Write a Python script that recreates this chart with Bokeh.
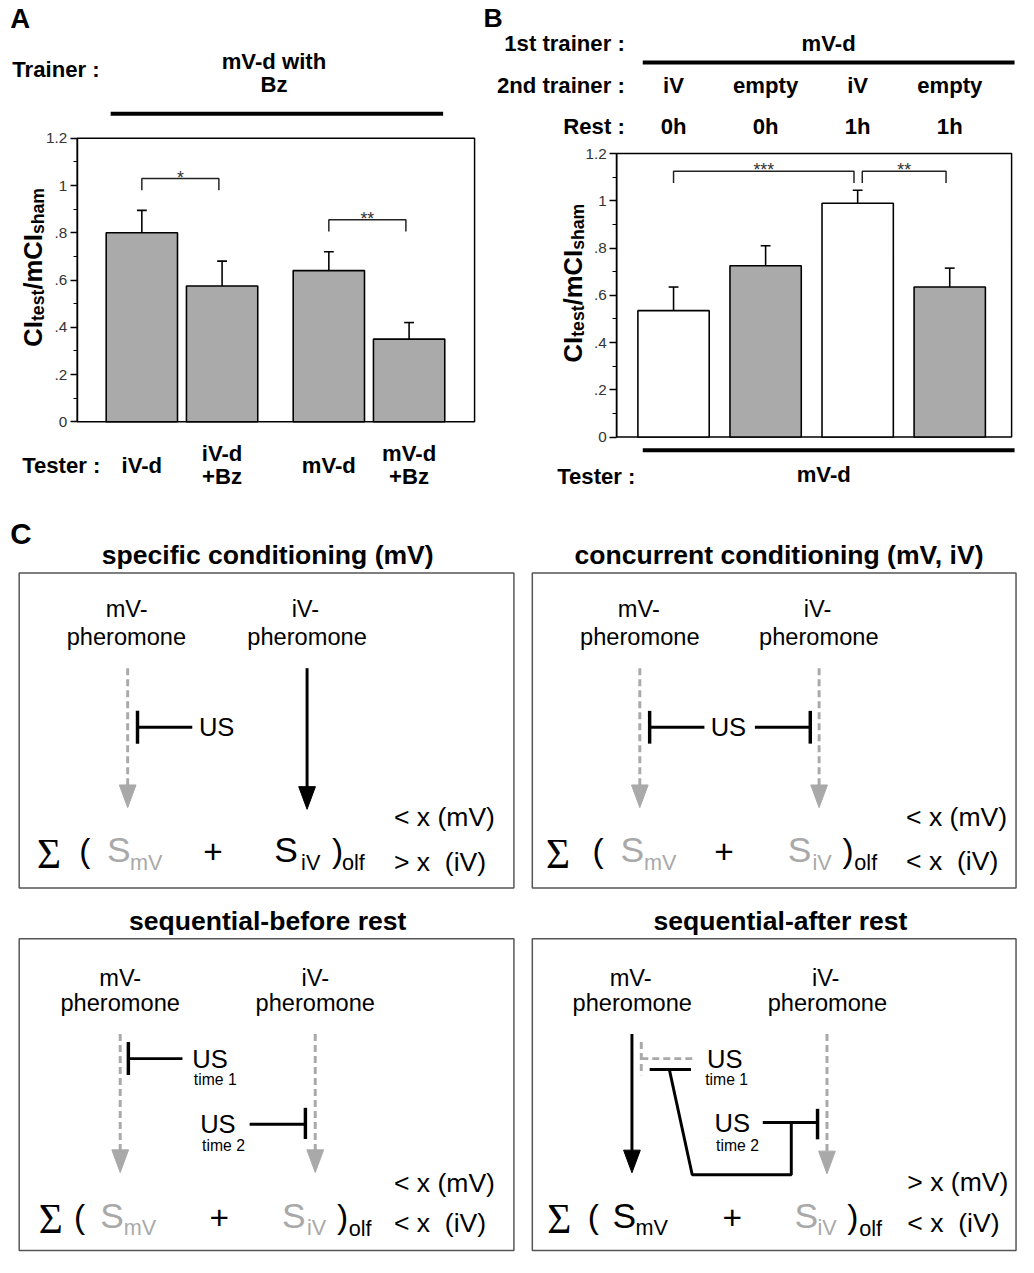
import math
from bokeh.plotting import figure
from bokeh.models import Range1d, LinearAxis, FixedTicker, CustomJSTickFormatter
from bokeh.core.properties import value
from bokeh.embed import file_html
from bokeh.resources import INLINE

# ---------------- data ----------------
A_trainer = ["mV-d with", "Bz"]
A_testers = ["iV-d", "iV-d\n+Bz", "mV-d", "mV-d\n+Bz"]
A_means = [0.80, 0.575, 0.64, 0.35]
A_sems = [0.095, 0.105, 0.08, 0.07]
A_sig_pairs = [(0, 1), (2, 3)]
A_sig_marks = ["*", "**"]
A_sig_levels = [1.03, 0.855]

B_trainer1 = "mV-d"
B_trainer2 = ["iV", "empty", "iV", "empty"]
B_rest = ["0h", "0h", "1h", "1h"]
B_tester = "mV-d"
B_means = [0.535, 0.725, 0.99, 0.635]
B_sems = [0.10, 0.085, 0.055, 0.08]
B_sig_pairs = [(0, 2), (2, 3)]
B_sig_marks = ["***", "**"]
B_sig_levels = [1.125, 1.125]

Y_TICKS = [0, 0.2, 0.4, 0.6, 0.8, 1.0, 1.2]
Y_MINOR = [0.1, 0.3, 0.5, 0.7, 0.9, 1.1]
Y_MAX = 1.2

C_titles = ["specific conditioning (mV)", "concurrent conditioning (mV, iV)",
            "sequential-before rest", "sequential-after rest"]
C_outcomes = [["< x (mV)", "> x\u00a0 (iV)"], ["< x (mV)", "< x\u00a0 (iV)"],
              ["< x (mV)", "< x\u00a0 (iV)"], ["> x (mV)", "< x\u00a0 (iV)"]]
C_active = [(False, True), (False, False), (False, False), (True, False)]

# ---------------- canvas ----------------
W_REF, H_REF = 1034, 1273
PW, PH = 1017, 1253
S = min(PW / W_REF, PH / H_REF)
SANS = "Liberation Sans"
SERIF = "Liberation Serif"
GRAY = "#a9a9a9"
BARGRAY = "#aaaaaa"


def vrange(zero_px, k):
    return Range1d(start=(zero_px - H_REF) / k, end=zero_px / k)


def xrange_(c0, step):
    return Range1d(start=(0 - c0) / step, end=(W_REF - c0) / step)


# panel geometry (reference pixel layout)
A_ZERO, B_ZERO, KPX = 428.0, 443.5, 240.0
A_C0, A_STEP = 143.7, 81.6
B_C0, B_STEP = 684.3, 93.6

p = figure(width=PW, height=PH, x_range=Range1d(0, W_REF), y_range=Range1d(H_REF, 0),
           output_backend="svg", toolbar_location=None, tools="",
           x_axis_location=None, y_axis_location=None, min_border=0,
           outline_line_color=None, background_fill_color="white",
           border_fill_color="white")
p.grid.grid_line_color = None
p.extra_x_ranges = {"xa": xrange_(A_C0, A_STEP), "xb": xrange_(B_C0, B_STEP)}
p.extra_y_ranges = {"ya": vrange(A_ZERO, KPX), "yb": vrange(B_ZERO, KPX)}


def T(x, y, s, size, bold=False, color="black", align="center", baseline="middle",
      font=SANS, angle=0.0, xr="default", yr="default"):
    p.text(x=[x], y=[y], text=[s], text_font=value(font),
           text_font_size=f"{size * S:.2f}px",
           text_font_style="bold" if bold else "normal", text_color=color,
           text_align=align, text_baseline=baseline, angle=angle,
           x_range_name=xr, y_range_name=yr)


def L(xs, ys, w=3.0, color="black", dash="solid", xr="default", yr="default"):
    p.line(x=xs, y=ys, line_width=w * S, line_color=color, line_dash=dash,
           x_range_name=xr, y_range_name=yr)


def arrow(x, y0, tip, color, dashed):
    hl, hw = 23, 8.5
    L([x, x], [y0, tip - hl + 2], w=3, color=color, dash="7 4" if dashed else "solid")
    p.patch([x - hw, x + hw, x], [tip - hl, tip - hl, tip], fill_color=color,
            line_color=color, line_width=1)


fmt = CustomJSTickFormatter(code="""
if (Math.abs(tick) < 1e-9) return "0";
if (Math.abs(tick - Math.round(tick)) < 1e-9) return tick.toFixed(0);
return tick.toFixed(1).replace(/^0/, "");
""")


def add_axis(yr, xloc, xright):
    ax = LinearAxis(y_range_name=yr, fixed_location=xloc, bounds=(0, Y_MAX),
                    ticker=FixedTicker(ticks=Y_TICKS, minor_ticks=Y_MINOR),
                    formatter=fmt)
    ax.axis_line_width = 1.5 * S
    ax.axis_line_color = "black"
    ax.major_tick_out = 7
    ax.major_tick_in = 0
    ax.minor_tick_out = 4
    ax.minor_tick_in = 0
    ax.major_tick_line_width = 1.3
    ax.minor_tick_line_width = 1.2
    ax.major_label_text_font = SANS
    ax.major_label_text_font_size = f"{15.5 * S:.2f}px"
    ax.major_label_text_color = "#333333"
    ax.major_label_standoff = 3
    p.add_layout(ax, "left")
    p.quad(left=[xloc], right=[xright], bottom=[0], top=[Y_MAX], fill_color=None,
           line_color="black", line_width=1.5 * S, y_range_name=yr)


AB = {'C': 0.722, 'I': 0.278, 't': 0.333, 'e': 0.556, 's': 0.556, '/': 0.278,
      'm': 0.889, 'h': 0.611, 'a': 0.556}


def tw(s, size):
    return sum(AB.get(c, 0.6) for c in s) * size


def ylabel(xb, yc):
    parts = [("CI", 26, 0), ("test", 18, 5), ("/mCI", 26, 0), ("sham", 18, 5)]
    total = sum(tw(t, sz) for t, sz, _ in parts)
    y = yc + total / 2
    for t, sz, off in parts:
        T(xb + off, y, t, sz, bold=True, align="left", baseline="alphabetic",
          angle=math.pi / 2)
        y -= tw(t, sz)


def bars(pos, means, sems, colors, width, xr, yr, step):
    p.vbar(x=pos, top=means, bottom=0, width=width, fill_color=colors,
           line_color="black", line_width=1.6 * S, x_range_name=xr, y_range_name=yr)
    tops = [m + e for m, e in zip(means, sems)]
    p.segment(x0=pos, y0=means, x1=pos, y1=tops, line_color="black",
              line_width=1.6 * S, x_range_name=xr, y_range_name=yr)
    cw = 5.0 / step
    p.segment(x0=[x - cw for x in pos], y0=tops, x1=[x + cw for x in pos], y1=tops,
              line_color="black", line_width=1.6 * S, x_range_name=xr, y_range_name=yr)


def brackets(pos, pairs, marks, levels, xr, yr):
    rights = [j for _, j in pairs]
    for (i, j), m, h in zip(pairs, marks, levels):
        x0 = pos[i] + (0.05 if i in rights else 0.0)
        x1 = pos[j] - 0.04
        leg = 0.05
        p.line(x=[x0, x0, x1, x1], y=[h - leg, h, h, h - leg], line_color="#222222",
               line_width=1.5 * S, x_range_name=xr, y_range_name=yr)
        T((x0 + x1) / 2, h + 0.004, m, 18, color="#333333", baseline="alphabetic",
          xr=xr, yr=yr)


# ---------------- panel A ----------------
T(10, 18, "A", 28, bold=True, align="left")
T(12, 70, "Trainer :", 22.5, bold=True, align="left")
T(278, 62, A_trainer[0], 22.5, bold=True)
T(278, 85, A_trainer[1], 22.5, bold=True)
L([112, 450], [115, 115], w=4)
A_pos = [i + 0.33 * (i // 2) for i in range(len(A_means))]
add_axis("ya", 78, 482)
bars(A_pos, A_means, A_sems, [BARGRAY] * 4, 72.5 / A_STEP, "xa", "ya", A_STEP)
brackets(A_pos, A_sig_pairs, A_sig_marks, A_sig_levels, "xa", "ya")
ylabel(33, 271)
T(22, 472, "Tester :", 22.5, bold=True, align="left")
for x, lab in zip(A_pos, A_testers):
    lines = lab.split("\n")
    n = len(lines)
    for k, ln in enumerate(lines):
        T(x, 472 + (k - (n - 1) / 2) * 24, ln, 22.5, bold=True, xr="xa")

# ---------------- panel B ----------------
T(491, 17.5, "B", 27, bold=True, align="left")
T(634.7, 43.5, "1st trainer :", 22.5, bold=True, align="right")
T(842, 43.5, B_trainer1, 22.5, bold=True)
L([653, 1031], [63, 63], w=4)
T(634.7, 86, "2nd trainer :", 22.5, bold=True, align="right")
T(634.7, 128, "Rest :", 22.5, bold=True, align="right")
B_pos = list(range(len(B_means)))
for x, t2, r in zip(B_pos, B_trainer2, B_rest):
    T(x, 86, t2, 22.5, bold=True, xr="xb")
    T(x, 128, r, 22.5, bold=True, xr="xb")
add_axis("yb", 626.5, 1028)
B_colors = ["white" if t == "iV" else BARGRAY for t in B_trainer2]
bars(B_pos, B_means, B_sems, B_colors, 72.5 / B_STEP, "xb", "yb", B_STEP)
brackets(B_pos, B_sig_pairs, B_sig_marks, B_sig_levels, "xb", "yb")
ylabel(582, 287)
L([653, 1031], [457, 457], w=4)
T(566, 483.5, "Tester :", 22.5, bold=True, align="left")
T(837, 482, B_tester, 22.5, bold=True)

# ---------------- panel C ----------------
T(10, 541, "C", 30, bold=True, align="left")
boxes = [(19, 522, 581.7, 901.7), (540.7, 1032.5, 581.7, 901.7),
         (19, 522, 953.3, 1270), (540.7, 1032.5, 953.3, 1270)]
title_pos = [(271.7, 563.3), (791.5, 563.3), (271.7, 935), (793, 935)]
for (l, r, t, b), (tx, ty), title in zip(boxes, title_pos, C_titles):
    p.quad(left=[l], right=[r], top=[t], bottom=[b], fill_color=None,
           line_color="#555555", line_width=1.5 * S)
    T(tx, ty, title, 27, bold=True)

# pheromone labels
pher = [((128.3, 618.3, 128, 646.7), (310, 618.3, 311.7, 646.7)),
        ((649, 618.3, 650, 646.7), (830.7, 618.3, 832, 646.7)),
        ((121.7, 993.3, 121.7, 1019), (320, 993.3, 320, 1019)),
        ((640.7, 993.3, 642.3, 1019), (839, 993.3, 840.7, 1019))]
for (m, i) in pher:
    T(m[0], m[1], "mV-", 24)
    T(m[2], m[3], "pheromone", 24)
    T(i[0], i[1], "iV-", 24)
    T(i[2], i[3], "pheromone", 24)

# box 1 arrows / inhibition
arrow(129.3, 678.3, 820, GRAY, True)
arrow(311.7, 678.3, 821.7, "black", False)
L([139.3, 139.3], [721.7, 755], w=3.5)
L([139.3, 195], [738.3, 738.3], w=3)
T(201.7, 738.3, "US", 26, align="left")

# box 2
arrow(650, 678.3, 820, GRAY, True)
arrow(832.3, 678.3, 820, GRAY, True)
L([660, 660], [721.7, 755], w=3.5)
L([660, 715.7], [738.3, 738.3], w=3)
T(722, 738.3, "US", 26, align="left")
L([767, 823.3], [738.3, 738.3], w=3)
L([823.3, 823.3], [721.7, 755], w=3.5)

# box 3
arrow(121.7, 1050, 1190.7, GRAY, True)
arrow(320, 1050, 1190.7, GRAY, True)
L([130, 130], [1058, 1091.7], w=3.5)
L([130, 185], [1075, 1075], w=3)
T(195, 1075, "US", 26, align="left")
T(218.3, 1096.7, "time 1", 16)
T(203, 1141.7, "US", 26, align="left")
T(226.7, 1163.3, "time 2", 16)
L([253.3, 310], [1141.7, 1141.7], w=3)
L([310, 310], [1125, 1156.7], w=3.5)

# box 4
arrow(642, 1050, 1191, "black", False)
arrow(840.3, 1050, 1192, GRAY, True)
L([651.5, 651.5], [1058, 1092], w=3, color=GRAY, dash="7 4")
L([651.5, 707], [1075, 1075], w=3, color=GRAY, dash="7 4")
L([660, 702], [1086, 1086], w=3)
L([680, 703.3, 804, 804], [1086, 1193, 1193, 1140], w=3)
L([775, 830], [1140, 1140], w=3)
L([830.7, 830.7], [1126, 1157], w=3.5)
T(718.3, 1075, "US", 26, align="left")
T(738.3, 1096.7, "time 1", 16)
T(726, 1140, "US", 26, align="left")
T(749.3, 1163.3, "time 2", 16)

# sum rows
row_x = [(38, 82, 110, 133, 216, 280, 307, 338, 348, 400),
         (555.7, 604, 632, 655.7, 735.7, 802, 827, 857, 869, 920.7),
         (40, 76.7, 103, 126.7, 222.5, 288, 313, 343, 355, 400),
         (557, 599, 624, 647, 744, 809, 832, 862, 874, 922)]
row_yb = [863.3, 863.3, 1235, 1235]
row_ty = [(830, 875), (830, 874), (1201.7, 1242.3), (1200, 1242)]
for xs, yb, tys, act, outc in zip(row_x, row_yb, row_ty, C_active, C_outcomes):
    sig, lp, s1, sub1, plus, s2, sub2, rp, olf, tx = xs
    c1 = "black" if act[0] else GRAY
    c2 = "black" if act[1] else GRAY
    T(sig - 1, yb + 3.4, "Σ", 42, font=SERIF, align="left", baseline="alphabetic")
    T(lp - 2, yb, "(", 34, align="left", baseline="alphabetic")
    T(s1 - 1.7, yb, "S", 36, color=c1, align="left", baseline="alphabetic")
    T(sub1 - 1.4, yb + 12, "mV", 22, color=c1, align="left", baseline="alphabetic")
    T(plus, yb + 1.5, "+", 34, baseline="alphabetic")
    T(s2 - 1.7, yb, "S", 36, color=c2, align="left", baseline="alphabetic")
    T(sub2 - 1.4, yb + 12, "iV", 22, color=c2, align="left", baseline="alphabetic")
    T(rp - 1, yb, ")", 34, align="left", baseline="alphabetic")
    T(olf - 0.9, yb + 12.5, "olf", 22, align="left", baseline="alphabetic")
    T(tx, tys[0], outc[0], 27, align="left")
    T(tx, tys[1], outc[1], 27, align="left")

open("out.html", "w").write(file_html(p, INLINE))
